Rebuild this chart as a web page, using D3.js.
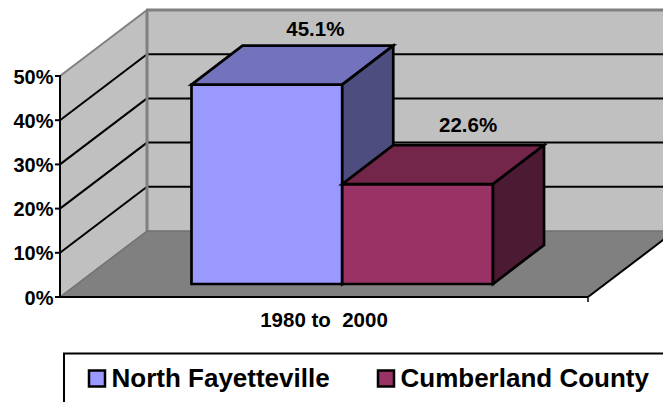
<!DOCTYPE html>
<html><head><meta charset="utf-8">
<script src="https://cdn.jsdelivr.net/npm/d3@7/dist/d3.min.js"></script>
<style>html,body{margin:0;padding:0;background:#fff;overflow:hidden}svg{display:block}text{font-family:"Liberation Sans",Arial,sans-serif;font-weight:bold;fill:#000}</style>
</head><body><svg id="c" width="663" height="402"></svg>
<script>
const seriesNames=["North Fayetteville","Cumberland County"];
const seriesValues=[45.1,22.6];
const valueLabels=["45.1%","22.6%"];
const tickValues=[0,10,20,30,40,50];
const category="1980 to  2000";
const frontColors=["#9999ff","#993366"];
const topColors=["#7373bd","#732649"];
const sideColors=["#4d4d80","#4d1a33"];

const svg=d3.select("#c");
const y=d3.scaleLinear().domain([0,50]).range([297,76]);
const x=d3.scaleBand().domain(seriesNames).range([191.5,493]).padding(0);
const X0=60,X1=588,dx=87,dy=-66,bdx=51,bdy=-39,by=-13;
const line=d3.line();
const poly=(pts,fill,stroke,w)=>svg.append("path").attr("d",line(pts)+"Z").attr("fill",fill).attr("stroke",stroke||"none").attr("stroke-width",w||0).attr("stroke-linejoin","miter");
const seg=(a,b,c,w)=>svg.append("line").attr("x1",a[0]).attr("y1",a[1]).attr("x2",b[0]).attr("y2",b[1]).attr("stroke",c).attr("stroke-width",w);

poly([[X0+dx,y(50)+dy],[X1+dx,y(50)+dy],[X1+dx,y(0)+dy],[X0+dx,y(0)+dy]],"#c0c0c0");
poly([[X0,y(50)],[X0+dx,y(50)+dy],[X0+dx,y(0)+dy],[X0,y(0)]],"#c0c0c0");
poly([[X0,y(0)],[X1,y(0)],[X1+dx,y(0)+dy],[X0+dx,y(0)+dy]],"#808080");
tickValues.filter(d=>d>0&&d<50).forEach(d=>{
  seg([X0,y(d)],[X0+dx,y(d)+dy],"#000",2);
  seg([X0+dx,y(d)+dy],[X1+dx,y(d)+dy],"#000",2);
});
seg([X0,y(50)],[X0+dx,y(50)+dy],"#808080",2);
seg([X0+dx-1,y(50)+dy],[X1+dx,y(50)+dy],"#808080",3);
seg([X0+dx,y(50)+dy],[X0+dx,y(0)+dy],"#808080",3);
seg([X0+dx,y(0)+dy],[X1+dx,y(0)+dy],"#707070",1.5);
seg([X0,y(0)],[X0+dx,y(0)+dy],"#707070",1.5);
seg([X0,y(50)-1],[X0,y(0)+1],"#000",2);
seg([X0,y(0)],[X1,y(0)],"#000",2);
seg([X1,y(0)],[X1+dx,y(0)+dy],"#000",2);
seg([X1,y(0)],[X1,y(0)+5],"#000",1.5);
tickValues.forEach(d=>{
  seg([X0-5,y(d)],[X0,y(d)],"#000",2);
  svg.append("text").attr("x",53.5).attr("y",y(d)+7.5).attr("text-anchor","end").attr("font-size",20).text(d+"%");
});
const labelShift=[48.5,50.5];
const labelGap=[9.5,13.5];
seriesNames.forEach((n,i)=>{
  const l=x(n),r=l+x.bandwidth(),t=y(seriesValues[i])+by,b=y(0)+by;
  poly([[l,t],[r,t],[r,b],[l,b]],frontColors[i],"#000",2.7);
  poly([[l,t],[l+bdx,t+bdy],[r+bdx,t+bdy],[r,t]],topColors[i],"#000",2.7);
  poly([[r,t],[r+bdx,t+bdy],[r+bdx,b+bdy],[r,b]],sideColors[i],"#000",2.7);
  svg.append("text").attr("x",(l+r)/2+labelShift[i]).attr("y",t+bdy-labelGap[i]).attr("text-anchor","middle").attr("font-size",20.5).text(valueLabels[i]);
});
svg.append("text").attr("x",324).attr("y",327).attr("text-anchor","middle").attr("font-size",20.5).style("white-space","pre").text(category);
svg.append("rect").attr("x",64).attr("y",353.5).attr("width",640).attr("height",80).attr("fill","#fff").attr("stroke","#000").attr("stroke-width",2);
const legendX=[88,377];
seriesNames.forEach((n,i)=>{
  svg.append("rect").attr("x",legendX[i]+1).attr("y",370.5).attr("width",16).attr("height",16).attr("fill",frontColors[i]).attr("stroke","#000").attr("stroke-width",2.5);
  svg.append("text").attr("x",legendX[i]+23.5).attr("y",387).attr("font-size",26).text(n);
});
</script></body></html>
